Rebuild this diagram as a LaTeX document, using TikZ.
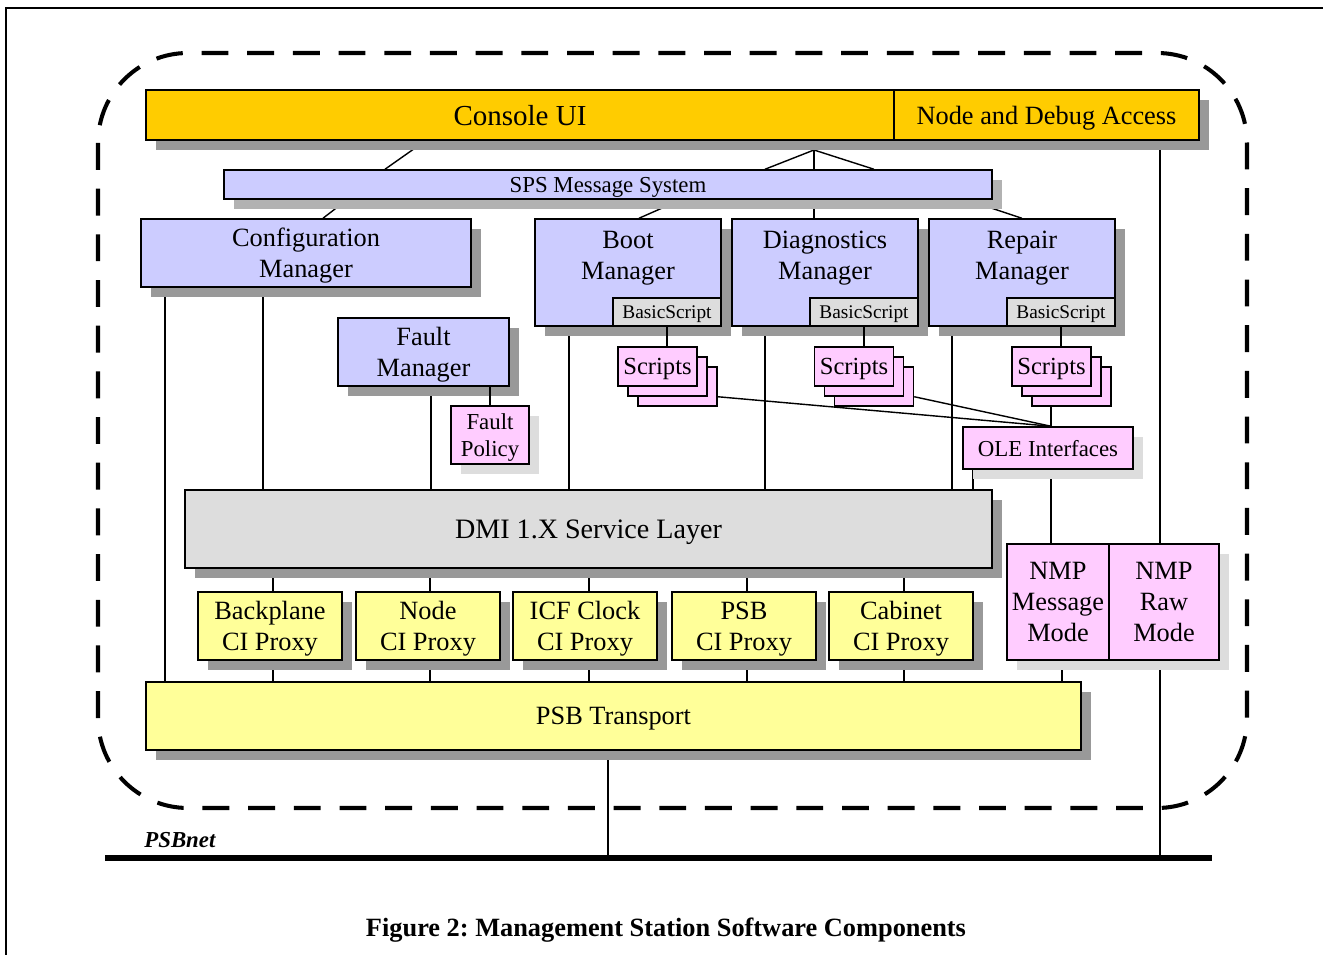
\documentclass[tikz,border=0pt]{standalone}
\usepackage{fontspec}
\setmainfont{Liberation Serif}
\usetikzlibrary{backgrounds}

\definecolor{uigold}{HTML}{FFCC00}
\definecolor{mgrblue}{HTML}{CCCCFF}
\definecolor{scrpink}{HTML}{FFCCFF}
\definecolor{proxyellow}{HTML}{FFFF99}
\definecolor{layergrey}{HTML}{DDDDDD}
\definecolor{darkshade}{HTML}{999999}
\definecolor{midshade}{HTML}{B2B2B2}
\definecolor{lightshade}{HTML}{DDDDDD}

\newcommand\mainfs{\fontsize{15}{17.8}\selectfont}
\newcommand\uifs{\fontsize{16.5}{19}\selectfont}
\newcommand\ndafs{\fontsize{15}{17}\selectfont}
\newcommand\spsfs{\fontsize{13}{15}\selectfont}
\newcommand\scrfs{\fontsize{14}{16}\selectfont}
\newcommand\bsfs{\fontsize{11}{13}\selectfont}
\newcommand\smallfs{\fontsize{13}{15.3}\selectfont}
\newcommand\dmifs{\fontsize{16}{19}\selectfont}

\begin{document}
\begin{tikzpicture}[x=0.02cm, y=-0.02cm]
	\tikzset{
		box/.style={draw, line width=0.85pt, inner sep=0pt, align=center, text depth=0pt},
		offshadow/.style={preaction={fill=#1, transform canvas={xshift=0.2cm, yshift=-0.2cm}}},
		mgr/.style={box, fill=mgrblue, offshadow=darkshade, font=\mainfs},
		proxy/.style={box, fill=proxyellow, offshadow=darkshade, minimum width=2.88cm, minimum height=1.36cm, font=\mainfs},
		scr/.style={box, fill=scrpink, minimum width=1.58cm, minimum height=0.78cm, font=\scrfs},
		bsbox/.style={box, fill=layergrey, anchor=south east, minimum width=2.16cm, minimum height=0.56cm, font=\bsfs},
		mgrtext/.style={anchor=north, inner sep=0pt, align=center, font=\mainfs},
		link/.style={line width=1.6pt},
		slant/.style={line width=0.8pt},
	}
	\useasboundingbox (0,0) rectangle (1323,955);

	\draw[line width=1.1pt] (6,1000) -- (6,8) -- (1400,8);
	\draw[line width=2.3pt, dash pattern=on 15.3pt off 10.7pt, rounded corners=1.8cm] (98,53) rectangle (1247,808);

	\node[box, fill=uigold, offshadow=darkshade, minimum width=14.96cm, minimum height=1cm, font=\uifs] (cui) at (520,115) {Console UI};
	\node[box, fill=uigold, offshadow=darkshade, minimum width=6.1cm, minimum height=1cm, font=\ndafs] (nda) at (1046.5,115) {Node and Debug Access};

	\node[box, fill=mgrblue, offshadow=midshade, minimum width=15.36cm, minimum height=0.58cm, font=\spsfs] (sps) at (608,184.5) {SPS Message System};

	\node[mgr, minimum width=6.6cm, minimum height=1.36cm] (cfg) at (306,253) {Configuration\\Manager};

	\node[mgr, minimum width=3.72cm, minimum height=2.14cm] (boot) at (628,272.5) {};
	\node[mgrtext] (bootT) at ([yshift=-7.2pt]boot.north) {Boot\\Manager};
	\node[bsbox] (bootBS) at (boot.south east) {BasicScript};

	\node[mgr, minimum width=3.72cm, minimum height=2.14cm] (diag) at (825,272.5) {};
	\node[mgrtext] (diagT) at ([yshift=-7.2pt]diag.north) {Diagnostics\\Manager};
	\node[bsbox] (diagBS) at (diag.south east) {BasicScript};

	\node[mgr, minimum width=3.72cm, minimum height=2.14cm] (rep) at (1022,272.5) {};
	\node[mgrtext] (repT) at ([yshift=-7.2pt]rep.north) {Repair\\Manager};
	\node[bsbox] (repBS) at (rep.south east) {BasicScript};

	\node[mgr, minimum width=3.42cm, minimum height=1.36cm] (fm) at (423.5,352) {Fault\\Manager};
	\node[box, fill=scrpink, offshadow=lightshade, minimum width=1.56cm, minimum height=1.16cm, font=\smallfs] (fp) at (490,435) {Fault\\Policy};

	\node[scr] (bootS3) at (677.5,386.5) {};
	\node[scr] (bootS2) at (667.5,376.5) {};
	\node[scr] (bootS1) at (657.5,366.5) {Scripts};

	\node[scr] (diagS3) at (874,386.5) {};
	\node[scr] (diagS2) at (864,376.5) {};
	\node[scr] (diagS1) at (854,366.5) {Scripts};

	\node[scr] (repS3) at (1071.5,386.5) {};
	\node[scr] (repS2) at (1061.5,376.5) {};
	\node[scr] (repS1) at (1051.5,366.5) {Scripts};

	\node[box, fill=scrpink, offshadow=lightshade, minimum width=3.4cm, minimum height=0.84cm, font=\smallfs] (ole) at (1048,448) {OLE Interfaces};

	\node[box, fill=layergrey, offshadow=darkshade, minimum width=16.14cm, minimum height=1.56cm, font=\dmifs] (dmi) at (588.5,529) {DMI 1.X Service Layer};

	\node[box, fill=scrpink, offshadow=lightshade, minimum width=2.04cm, minimum height=2.32cm, font=\mainfs] (nmpm) at (1058,602) {NMP\\Message\\Mode};
	\node[box, fill=scrpink, offshadow=lightshade, minimum width=2.2cm, minimum height=2.32cm, font=\mainfs] (nmpr) at (1164,602) {NMP\\Raw\\Mode};

	\node[proxy] (bpx) at (270,626) {Backplane\\CI Proxy};
	\node[proxy] (npx) at (428,626) {Node\\CI Proxy};
	\node[proxy] (ipx) at (585,626) {ICF Clock\\CI Proxy};
	\node[proxy] (ppx) at (744,626) {PSB\\CI Proxy};
	\node[proxy] (cpx) at (901,626) {Cabinet\\CI Proxy};

	\node[box, fill=proxyellow, offshadow=darkshade, minimum width=18.7cm, minimum height=1.36cm, font=\mainfs] (psbt) at (613.5,716) {PSB Transport};

	\coordinate (netL) at (105,858);
	\coordinate (netR) at (1212,858);
	\draw[line width=3.4pt] (netL) -- (netR);
	\node[anchor=base west, inner sep=0pt, font=\fontsize{13}{15}\selectfont\bfseries\itshape] (netlbl) at (144,848) {PSBnet};

	\node[font=\fontsize{15}{18}\selectfont\bfseries] (cap) at (666,930) {Figure 2:\ Management Station Software Components};

	% lines in front of the shadows
	\draw[link] (667,0 |- bootBS.south) -- (667,0 |- bootS1.north);
	\draw[link] (864,0 |- diagBS.south) -- (864,0 |- diagS1.north);
	\draw[link] (1061,0 |- repBS.south) -- (1061,0 |- repS1.north);
	\draw[link] (490,0 |- fm.south) -- (fp.north);

	\begin{pgfonlayer}{background}
		\coordinate (fan) at (814,150);
		\draw[slant] (425.5,0 |- cui.south) -- (385,0 |- sps.north);
		\draw[slant] (fan) -- (765,0 |- sps.north);
		\draw[slant] (fan) -- (874,0 |- sps.north);
		\draw[slant] (fan) -- (814,0 |- sps.north);
		\draw[slant] (347,0 |- sps.south) -- (323,0 |- cfg.north);
		\draw[slant] (681,0 |- sps.south) -- (639,0 |- boot.north);
		\draw[slant] (814,0 |- sps.south) -- (814,0 |- diag.north);
		\draw[slant] (966,0 |- sps.south) -- (1022,0 |- rep.north);

		\draw[link] (165,0 |- cfg.south) -- (165,0 |- psbt.north);
		\draw[link] (263,0 |- cfg.south) -- (263,0 |- dmi.north);
		\draw[link] (431,0 |- fm.south) -- (431,0 |- dmi.north);
		\draw[link] (569,0 |- boot.south) -- (569,0 |- dmi.north);
		\draw[link] (765,0 |- diag.south) -- (765,0 |- dmi.north);
		\draw[link] (952,0 |- rep.south) -- (952,0 |- dmi.north);

		\draw[slant] ([yshift=0.2cm]bootS3.south east) -- (1051,0 |- ole.north);
		\draw[slant] ([yshift=0.2cm]diagS3.south east) -- (1051,0 |- ole.north);
		\draw[link] (1051,0 |- repS3.south) -- (1051,0 |- ole.north);

		\draw[link] (973,0 |- ole.south) -- (973,0 |- dmi.north);
		\draw[link] (1051,0 |- ole.south) -- (1051,0 |- nmpm.north);
		\draw[link] (1062,0 |- nmpm.south) -- (1062,0 |- psbt.north);
		\draw[link] (1160,0 |- nda.south) -- (1160,0 |- netR);

		\draw[link] (273,0 |- dmi.south) -- (273,0 |- psbt.north);
		\draw[link] (430,0 |- dmi.south) -- (430,0 |- psbt.north);
		\draw[link] (589,0 |- dmi.south) -- (589,0 |- psbt.north);
		\draw[link] (747,0 |- dmi.south) -- (747,0 |- psbt.north);
		\draw[link] (904,0 |- dmi.south) -- (904,0 |- psbt.north);

		\draw[link] (608,0 |- psbt.south) -- (608,0 |- netL);
	\end{pgfonlayer}
\end{tikzpicture}
\end{document}
